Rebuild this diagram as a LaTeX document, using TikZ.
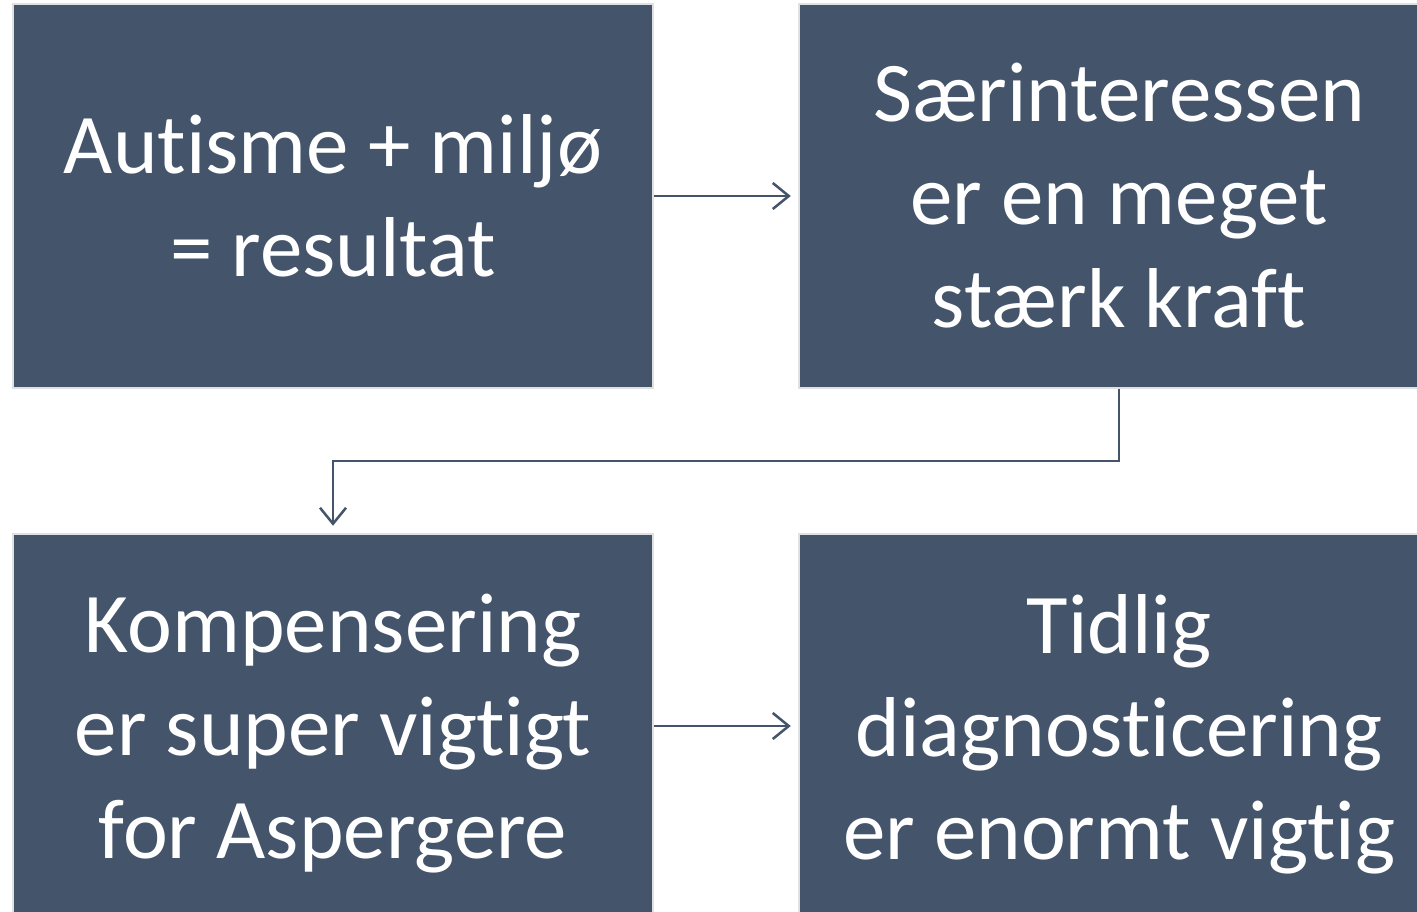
\documentclass[tikz,border=0pt]{standalone}
\usepackage{fontspec}
\setmainfont[Ligatures={NoCommon,NoRequired,NoContextual,NoRare}]{Carlito}
\usetikzlibrary{arrows.meta}
\definecolor{boxfill}{HTML}{44546A}
\definecolor{boxline}{HTML}{E0E0E0}
\begin{document}
\begin{tikzpicture}[x=1pt,y=-1pt,
  box/.style={draw=boxline, line width=2.5pt, fill=boxfill, minimum width=640pt, minimum height=384pt,
    inner sep=0pt, align=center, text=white, font=\fontsize{85}{103}\selectfont},
  conn/.style={draw=boxfill, line width=2.5pt, -{Straight Barb[length=16pt,width=26pt,line width=2.5pt]}}]
\useasboundingbox (0,0) rectangle (1417,912);
\clip (0,0) rectangle (1417,912);
\fill[white] (0,0) rectangle (1417,912);
\node[box] (b1) at (333,196) {Autisme + miljø\\= resultat};
\node[box] (b2) at (1119,196) {Særinteressen\\er en meget\\stærk kraft};
\node[box, minimum height=400pt] (b3) at (333,734) {Kompensering\\er super vigtigt\\for Aspergere};
\node[box, minimum height=400pt] (b4) at (1119,734) {Tidlig\\diagnosticering\\er enormt vigtig};
\coordinate (m) at (700,461);
\draw[conn, shorten >=7pt] (b1.east) -- (b2.west);
\draw[conn, shorten >=7pt] (b2.south) |- (m) -| (b3.north);
\draw[conn, shorten >=7pt] ([yshift=8pt]b3.east) -- ([yshift=8pt]b4.west);
\end{tikzpicture}
\end{document}
